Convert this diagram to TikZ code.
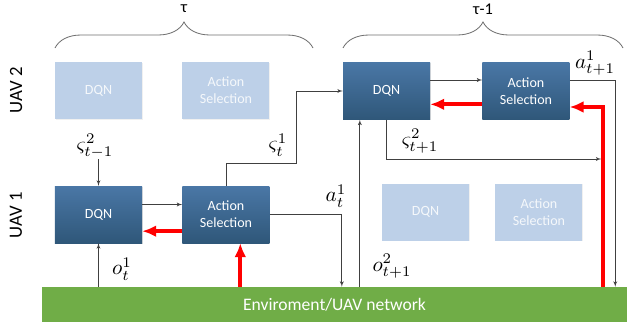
\documentclass[tikz,border=0pt]{standalone}
\usepackage{fontspec}
\setmainfont{Carlito}
\usepackage{tikz}
\usetikzlibrary{arrows, arrows.meta, positioning, calc, shadows, decorations.pathreplacing}

\definecolor{boxtop}{HTML}{4A77A6}
\definecolor{boxbot}{HTML}{2F5779}
\definecolor{faded}{HTML}{BDD0E8}
\definecolor{envgreen}{HTML}{70AD47}
\definecolor{linegray}{HTML}{404040}
\definecolor{bracegray}{HTML}{6E6E6E}

% math signal names, set larger than the body text
\newcommand{\sig}[1]{\scalebox{1.8}{$#1$}}

\begin{document}
\begin{tikzpicture}[x=0.03cm, y=-0.03cm, >=latex',
    block/.style={rectangle, minimum width=2.61cm, minimum height=1.71cm, top color=boxtop, bottom color=boxbot,
        text=white, align=center, font=\fontsize{12}{14.5}\selectfont,
        drop shadow={opacity=0.25, shadow xshift=0.6pt, shadow yshift=-0.6pt}},
    ghost/.style={rectangle, minimum width=2.61cm, minimum height=1.71cm, fill=faded,
        text=white!85!faded, align=center, font=\fontsize{12}{14.5}\selectfont,
        drop shadow={opacity=0.12, shadow xshift=0.6pt, shadow yshift=-0.6pt}},
    flow/.style={->, draw=linegray, line width=0.6pt},
    feedback/.style={-{Latex[length=0.42cm, width=0.36cm]}, draw=red, line width=3.6pt},
    brace/.style={decorate, decoration={brace, amplitude=0.78cm}, draw=bracegray, line width=0.7pt},
    sym/.style={inner sep=1pt}]
    \useasboundingbox (0,0) rectangle (627,333);

    % time slots
    \draw [brace] (55,48) -- (313,48);
    \draw [brace] (343,48) -- (623,48);
    \node [font=\fontsize{14}{16}\selectfont] (tauA) at (184,9) {τ};
    \node [font=\fontsize{14}{16}\selectfont] (tauB) at (483,9) {τ-1};

    % agents
    \node [rotate=90, font=\fontsize{16}{18}\selectfont] (uav2) at (16,90) {UAV 2};
    \node [rotate=90, font=\fontsize{16}{18}\selectfont] (uav1) at (16,215) {UAV 1};

    % UAV 1 in slot tau, UAV 2 idle
    \node [ghost] (dqnAg) at (98.5,90.5) {DQN};
    \node [ghost, right=1.2cm of dqnAg] (selAg) {Action\\Selection};
    \node [block] (dqnA) at (98.5,214.5) {DQN};
    \node [block, right=1.2cm of dqnA] (selA) {Action\\Selection};

    % UAV 2 in slot tau-1, UAV 1 idle
    \node [block] (dqnB) at (386.5,91) {DQN};
    \node [block, right=1.56cm of dqnB] (selB) {Action\\Selection};
    \node [ghost] (dqnBg) at (425.5,212) {DQN};
    \node [ghost, right=0.78cm of dqnBg] (selBg) {Action\\Selection};

    \node [rectangle, fill=envgreen, minimum width=17.55cm, minimum height=1.05cm, text=white,
        font=\fontsize{15}{18}\selectfont] (env) at (334.5,304.5) {Enviroment/UAV network};

    \coordinate (rA) at ([xshift=0.43cm]selA.south);
    \coordinate (oB) at ([xshift=-0.8cm]dqnB.south);
    \coordinate (aB) at ([xshift=-0.36cm]env.north east);
    \coordinate (fB) at ([xshift=-0.72cm]env.north east);

    % signal names
    \node [sym] (zA) at (95,146) {\sig{\varsigma^2_{t-1}}};
    \node [sym] (zA1) at (278,145) {\sig{\varsigma^1_t}};
    \node [sym] (oA) at (122,269) {\sig{o^1_t}};
    \node [sym] (aA) at (336,196) {\sig{a^1_t}};
    \node [sym] (oB2) at (392,266) {\sig{o^2_{t+1}}};
    \node [sym] (zB) at (420,141) {\sig{\varsigma^2_{t+1}}};
    \node [sym] (aB1) at (595,63) {\sig{a^1_{t+1}}};

    % UAV 1
    \draw [flow] (zA.south -| dqnA) -- (dqnA.north);
    \draw [flow] (env.north -| dqnA) -- (dqnA.south);
    \draw [flow] ([yshift=0.3cm]dqnA.east) -- ([yshift=0.3cm]selA.west);
    \draw [feedback] ([yshift=-0.5cm]selA.west) -- ([yshift=-0.5cm]dqnA.east);
    \draw [feedback] (rA |- env.north) -- (rA);
    \draw [flow] (selA.north) |- (296,163) |- (dqnB.west);
    \draw [flow] (selA.east) -| ([xshift=0.22cm]env.north);

    % UAV 2
    \draw [flow] (oB |- env.north) -- (oB);
    \draw [flow] ([yshift=0.33cm]dqnB.east) -- ([yshift=0.33cm]selB.east -| selB.west);
    \draw [flow] (dqnB.south) |- ([xshift=-0.06cm]fB |- 0,159);
    \draw [flow] ([yshift=0.33cm]selB.east) -| (aB);
    \draw [feedback] ([yshift=-0.4cm]selB.west) -- ([yshift=-0.4cm]dqnB.east);
    \draw [feedback] (fB) |- ([yshift=-0.48cm]selB.east);
\end{tikzpicture}
\end{document}
